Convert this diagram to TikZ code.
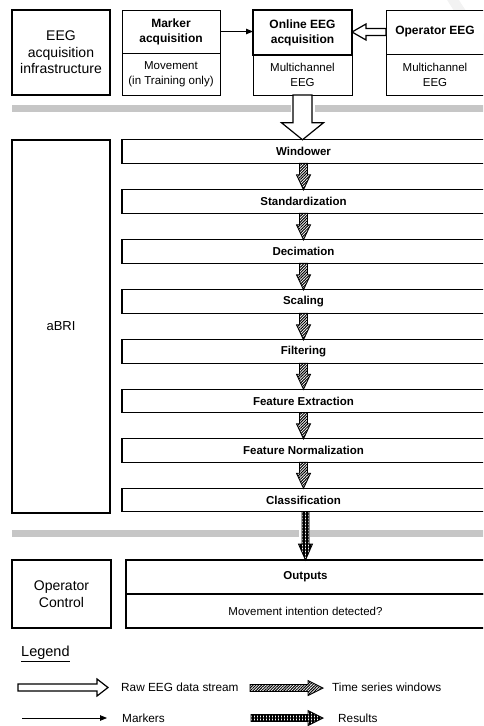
\documentclass[tikz,border=0pt]{standalone}
\usepackage{fontspec}
\setmainfont{Liberation Sans}
\usetikzlibrary{arrows.meta,patterns.meta,calc}
\newcommand{\fs}[2]{\fontsize{#1}{#2}\selectfont}
% vertical block arrow: style, from, to, shaft half, head half, head length
\newcommand{\varrowshape}[6]{\path[#1] let \p1=(#2), \p2=(#3) in
  (\x1-#4,\y1) -- (\x1-#4,\y2+#6) -- (\x1-#5,\y2+#6) -- (\x1,\y2) -- (\x1+#5,\y2+#6) -- (\x1+#4,\y2+#6) -- (\x1+#4,\y1) -- cycle;}
% left-pointing block arrow
\newcommand{\larrowshape}[6]{\path[#1] let \p1=(#2), \p2=(#3) in
  (\x1,\y1+#4) -- (\x2+#6,\y1+#4) -- (\x2+#6,\y1+#5) -- (\x2,\y1) -- (\x2+#6,\y1-#5) -- (\x2+#6,\y1-#4) -- (\x1,\y1-#4) -- cycle;}
% right-pointing block arrow
\newcommand{\rarrowshape}[6]{\path[#1] let \p1=(#2), \p2=(#3) in
  (\x1,\y1+#4) -- (\x2-#6,\y1+#4) -- (\x2-#6,\y1+#5) -- (\x2,\y1) -- (\x2-#6,\y1-#5) -- (\x2-#6,\y1-#4) -- (\x1,\y1-#4) -- cycle;}
\tikzset{
  box/.style={draw, rectangle, inner sep=0pt, outer sep=0pt, line width=1pt, align=center, fill=white},
  thickbox/.style={box, line width=1.6pt},
  pipe/.style={box, line width=1.3pt, minimum width=363pt, minimum height=23.5pt, font=\fs{11.5}{13}\bfseries},
  headtxt/.style={font=\fs{12}{15}\bfseries},
  bodytxt/.style={font=\fs{11.5}{15}},
  hollow/.style={draw, line width=1.2pt, fill=white, line join=miter},
  hatched/.style={draw, line width=0.9pt, pattern={Lines[angle=45,distance=2pt,line width=1pt]}},
  xhatched/.style={draw, line width=0.9pt, pattern={Hatch[distance=1.5pt,line width=0.7pt]}},
  thinarrow/.style={line width=0.8pt, -{Triangle[length=7pt,width=5.5pt]}},
  sepbar/.style={fill=gray!45},
  legtxt/.style={anchor=west, inner sep=0pt, font=\fs{11.8}{14}}
}
\begin{document}
\begin{tikzpicture}[x=1pt,y=-1pt]
\useasboundingbox (0,0) rectangle (483,726);
\clip (0,0) rectangle (483,726);

% faint watermark stroke
\draw[gray!10, line width=10pt] (450,-5) .. controls (462,15) and (474,32) .. (495,55);

% separator bars
\fill[sepbar] (12,105) rectangle (291,112);
\fill[sepbar] (315,105) rectangle (490,112);
\fill[sepbar] (12,530) rectangle (299,537);
\fill[sepbar] (310,530) rectangle (490,537);

% top row
\node[thickbox, minimum width=98pt, minimum height=85pt, font=\fs{14}{16.5}] (infra) at (61,52.5) {EEG\\acquisition\\infrastructure};
\node[box, minimum width=98pt, minimum height=42pt, bodytxt] (mkb) at (171,74) {Movement\\(in Training only)};
\node[box, minimum width=98pt, minimum height=43pt, headtxt] (mkh) at (171,31.5) {Marker\\acquisition};
\node[box, minimum width=99pt, minimum height=40pt, bodytxt] (onb) at (302.5,75) {Multichannel\\EEG};
\node[thickbox, minimum width=99pt, minimum height=45pt, headtxt] (onh) at (302.5,32.5) {Online EEG\\acquisition};
\node[box, minimum width=98pt, minimum height=41pt, bodytxt] (opb) at (435,74.5) {Multichannel\\EEG};
\node[box, minimum width=98pt, minimum height=44pt, headtxt] (oph) at (435,32) {Operator EEG};

% aBRI column and pipeline
\node[box, line width=1.3pt, minimum width=98pt, minimum height=373pt, font=\fs{13}{15}] (abri) at (61,326.5) {aBRI};
\node[pipe] (win) at (303.5,151.5) {Windower};
\node[pipe] (std) at (303.5,201.5) {Standardization};
\node[pipe] (dec) at (303.5,251.5) {Decimation};
\node[pipe] (sca) at (303.5,301.5) {Scaling};
\node[pipe] (fil) at (303.5,351.5) {Filtering};
\node[pipe] (fex) at (303.5,401) {Feature Extraction};
\node[pipe] (fno) at (303.5,450.5) {Feature Normalization};
\node[pipe] (cls) at (303.5,500) {Classification};

% bottom row
\node[box, line width=1.3pt, minimum width=99pt, minimum height=68pt, font=\fs{14}{17}] (opc) at (61.5,594) {Operator\\Control};
\node[box, line width=1.3pt, minimum width=359pt, minimum height=34pt, bodytxt] (outb) at (305.5,611) {Movement intention detected?};
\node[box, line width=1.3pt, minimum width=359pt, minimum height=34pt, font=\fs{11.5}{13}\bfseries] (outh) at (305.5,577) {Outputs};

% connectors top
\draw[thinarrow] (mkh.east) -- (mkh.east -| onh.west);
\larrowshape{hollow}{oph.west}{onh.east |- oph.west}{3.5pt}{8pt}{14pt}
\varrowshape{hollow}{onb.south}{win.north}{9.5pt}{21pt}{17pt}

% pipeline arrows
\varrowshape{hatched}{win.south}{std.north}{4pt}{7pt}{15pt}
\varrowshape{hatched}{std.south}{dec.north}{4pt}{7pt}{15pt}
\varrowshape{hatched}{dec.south}{sca.north}{4pt}{7pt}{15pt}
\varrowshape{hatched}{sca.south}{fil.north}{4pt}{7pt}{15pt}
\varrowshape{hatched}{fil.south}{fex.north}{4pt}{7pt}{15pt}
\varrowshape{hatched}{fex.south}{fno.north}{4pt}{7pt}{15pt}
\varrowshape{hatched}{fno.south}{cls.north}{4pt}{7pt}{15pt}
\varrowshape{xhatched}{cls.south -| outh.north}{outh.north}{3.5pt}{7pt}{16pt}

% legend
\node[anchor=west, inner sep=0pt, font=\fs{14.5}{16}] (leg) at (21,654) {\underline{Legend}};
\coordinate (lg1a) at (18,687.5);
\coordinate (lg1b) at (108,687.5);
\coordinate (lg2a) at (250,688);
\coordinate (lg2b) at (323,688);
\coordinate (lg3a) at (22,718);
\coordinate (lg3b) at (107,718);
\coordinate (lg4a) at (251,718);
\coordinate (lg4b) at (323,718);
\rarrowshape{hollow}{lg1a}{lg1b}{3.5pt}{8.5pt}{11pt}
\rarrowshape{hatched}{lg2a}{lg2b}{3.5pt}{7.5pt}{15pt}
\draw[thinarrow] (lg3a) -- (lg3b);
\rarrowshape{xhatched}{lg4a}{lg4b}{3.5pt}{7.5pt}{15pt}
\node[legtxt] (t1) at (121,687) {Raw EEG data stream};
\node[legtxt] (t2) at (332,687) {Time series windows};
\node[legtxt] (t3) at (122,718) {Markers};
\node[legtxt] (t4) at (338,718) {Results};
\end{tikzpicture}
\end{document}
